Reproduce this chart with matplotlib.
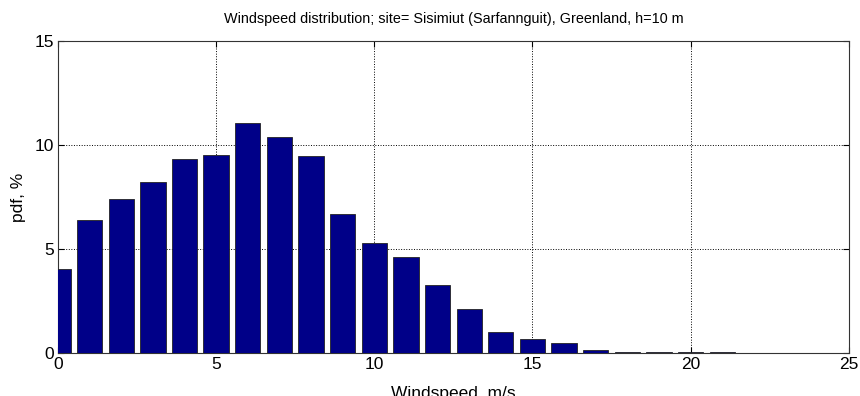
import matplotlib
matplotlib.use('Agg')
import matplotlib.pyplot as pyplot

# windspeed bins (m/s) and probability density (%)
windspeed = list(range(0, 25))
pdf_percent = [4.04, 6.42, 7.40, 8.25, 9.36, 9.53, 11.06, 10.38, 9.50, 6.71,
               5.29, 4.63, 3.28, 2.13, 1.02, 0.69, 0.50, 0.14, 0.05, 0.04,
               0.04, 0.04, 0.0, 0.0, 0.0]
x_ticks = [0, 5, 10, 15, 20, 25]
y_ticks = [0, 5, 10, 15]

pyplot.rcParams['font.family'] = ['Liberation Sans', 'DejaVu Sans']

figure = pyplot.figure(figsize=(8.6, 3.96), dpi=100)
axes = figure.add_axes([0.0674, 0.1078, 0.9195, 0.7879])

axes.bar(windspeed, pdf_percent, width=0.8, color='#000088',
         edgecolor='#222222', linewidth=0.6, zorder=3)

axes.set_xlim(0, 25)
axes.set_ylim(0, 15)
axes.set_xticks(x_ticks)
axes.set_yticks(y_ticks)
axes.grid(True, color='black', linestyle=':', linewidth=0.7, zorder=0)
axes.tick_params(direction='in', length=4, top=True, right=True,
                 labelsize=12.5, pad=3)
for spine in axes.spines.values():
    spine.set_color('#333333')
    spine.set_linewidth(0.8)

axes.set_xlabel('Windspeed, m/s', fontsize=12.5, labelpad=10)
axes.set_ylabel('pdf, %', fontsize=12.5, labelpad=6)
axes.set_title('Windspeed distribution; site= Sisimiut (Sarfannguit), Greenland, h=10 m',
               fontsize=10.4, pad=13)

pyplot.savefig('out.png', dpi=100)
pyplot.close(figure)
